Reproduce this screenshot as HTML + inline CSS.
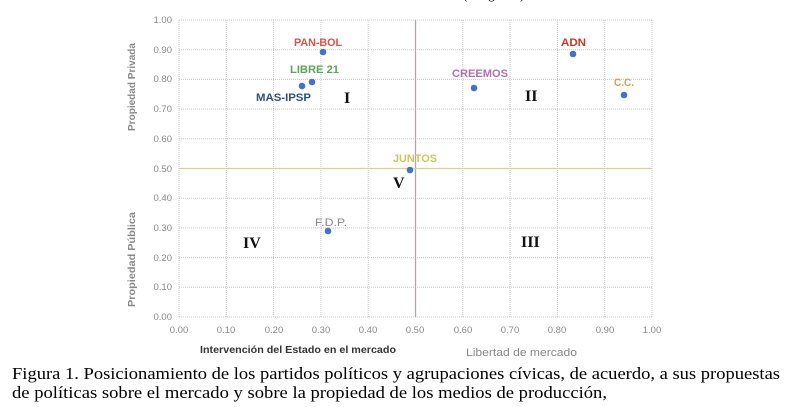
<!DOCTYPE html>
<html><head><meta charset="utf-8"><style>
html,body{margin:0;padding:0;background:#fff;width:798px;height:407px;overflow:hidden}
svg{display:block}
</style></head><body>
<svg width="798" height="407" xmlns="http://www.w3.org/2000/svg" font-family="Liberation Sans, sans-serif">
<rect width="798" height="407" fill="#fff"/>
<text x="463" y="-1" font-family="Liberation Serif, serif" font-size="13" fill="#000">(categorías)</text>
<g stroke="#c8c8c8" stroke-width="1" stroke-dasharray="1,1">
<line x1="179" y1="20" x2="652" y2="20"/><line x1="179" y1="49.7" x2="652" y2="49.7"/><line x1="179" y1="79.4" x2="652" y2="79.4"/><line x1="179" y1="109.1" x2="652" y2="109.1"/><line x1="179" y1="138.8" x2="652" y2="138.8"/><line x1="179" y1="198.2" x2="652" y2="198.2"/><line x1="179" y1="227.9" x2="652" y2="227.9"/><line x1="179" y1="257.6" x2="652" y2="257.6"/><line x1="179" y1="287.3" x2="652" y2="287.3"/><line x1="179" y1="317" x2="652" y2="317"/>
<line x1="179" y1="20" x2="179" y2="317"/><line x1="226.3" y1="20" x2="226.3" y2="317"/><line x1="273.6" y1="20" x2="273.6" y2="317"/><line x1="320.9" y1="20" x2="320.9" y2="317"/><line x1="368.2" y1="20" x2="368.2" y2="317"/><line x1="462.8" y1="20" x2="462.8" y2="317"/><line x1="510.1" y1="20" x2="510.1" y2="317"/><line x1="557.4" y1="20" x2="557.4" y2="317"/><line x1="604.7" y1="20" x2="604.7" y2="317"/><line x1="652" y1="20" x2="652" y2="317"/>
</g>
<line x1="415.5" y1="20" x2="415.5" y2="317" stroke="#c4a292" stroke-width="1.3"/>
<line x1="179" y1="168.5" x2="652" y2="168.5" stroke="#d8d290" stroke-width="1.3"/>
<g font-size="9.5" fill="#888" text-anchor="end">
<text x="172" y="23">1.00</text><text x="172" y="53">0.90</text><text x="172" y="82">0.80</text><text x="172" y="112">0.70</text><text x="172" y="142">0.60</text><text x="172" y="172">0.50</text><text x="172" y="201">0.40</text><text x="172" y="231">0.30</text><text x="172" y="261">0.20</text><text x="172" y="290">0.10</text><text x="172" y="320">0.00</text>
</g>
<g font-size="9.5" fill="#888" text-anchor="middle">
<text x="179" y="333">0.00</text><text x="226" y="333">0.10</text><text x="274" y="333">0.20</text><text x="321" y="333">0.30</text><text x="368" y="333">0.40</text><text x="415" y="333">0.50</text><text x="463" y="333">0.60</text><text x="510" y="333">0.70</text><text x="557" y="333">0.80</text><text x="605" y="333">0.90</text><text x="652" y="333">1.00</text>
</g>
<text x="200" y="353" font-size="10" font-weight="bold" fill="#333" textLength="196" lengthAdjust="spacingAndGlyphs">Intervención del Estado en el mercado</text>
<text x="466" y="356" font-size="11" fill="#888" textLength="111" lengthAdjust="spacingAndGlyphs">Libertad de mercado</text>
<text transform="translate(135,131) rotate(-90)" font-size="10" font-weight="bold" fill="#888" textLength="88" lengthAdjust="spacingAndGlyphs">Propiedad Privada</text>
<text transform="translate(135,307) rotate(-90)" font-size="10" font-weight="bold" fill="#888" textLength="95" lengthAdjust="spacingAndGlyphs">Propiedad Pública</text>
<g fill="#4472c4">
<circle cx="323" cy="52" r="3.3"/><circle cx="312" cy="82" r="3.3"/><circle cx="302" cy="86" r="3.3"/><circle cx="474" cy="88" r="3.3"/><circle cx="573" cy="54" r="3.3"/><circle cx="624" cy="95" r="3.3"/><circle cx="410" cy="170" r="3.3"/><circle cx="328" cy="231" r="3.3"/>
</g>
<g font-size="11" font-weight="bold">
<text x="294" y="46" fill="#d9534f" textLength="48" lengthAdjust="spacingAndGlyphs">PAN-BOL</text>
<text x="290" y="73" fill="#5aa55a" textLength="49" lengthAdjust="spacingAndGlyphs">LIBRE 21</text>
<text x="256" y="101" fill="#2f4f7f" textLength="55" lengthAdjust="spacingAndGlyphs">MAS-IPSP</text>
<text x="452" y="77" fill="#b070b0" textLength="56" lengthAdjust="spacingAndGlyphs">CREEMOS</text>
<text x="561" y="46" fill="#c0392b" textLength="25" lengthAdjust="spacingAndGlyphs">ADN</text>
<text x="614" y="86" fill="#d0a060" textLength="20" lengthAdjust="spacingAndGlyphs">C.C.</text>
<text x="393" y="162" fill="#c8c860" textLength="44" lengthAdjust="spacingAndGlyphs">JUNTOS</text>
<text x="315" y="226" fill="#888" font-weight="normal" textLength="32" lengthAdjust="spacingAndGlyphs">F.D.P.</text>
</g>
<g font-family="Liberation Serif, serif" font-size="16" font-weight="bold" fill="#111">
<text x="344" y="103">I</text><text x="525" y="101">II</text><text x="521" y="247">III</text><text x="243" y="248">IV</text><text x="393" y="188">V</text>
</g>
<g font-family="Liberation Serif, serif" font-size="17" fill="#000">
<text x="12" y="379" textLength="768" lengthAdjust="spacingAndGlyphs">Figura 1. Posicionamiento de los partidos políticos y agrupaciones cívicas, de acuerdo, a sus propuestas</text>
<text x="12" y="398" textLength="595" lengthAdjust="spacingAndGlyphs">de políticas sobre el mercado y sobre la propiedad de los medios de producción,</text>
</g>
</svg>
</body></html>
